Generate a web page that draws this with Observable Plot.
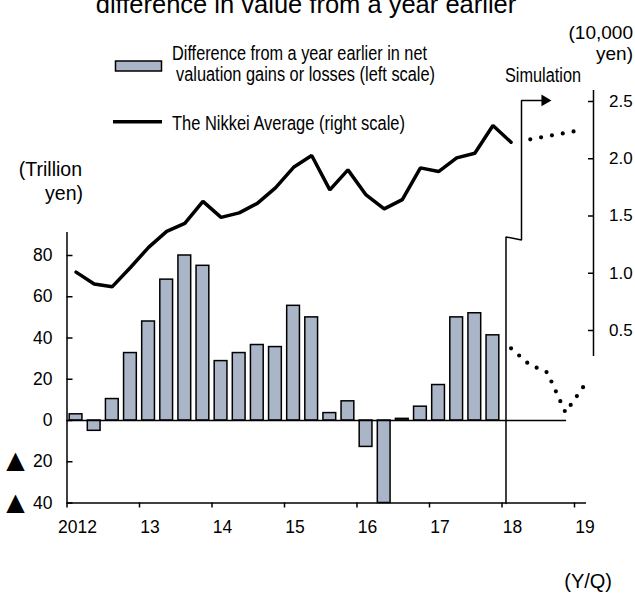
<!DOCTYPE html>
<html><head><meta charset="utf-8">
<script src="https://cdn.jsdelivr.net/npm/d3@7"></script>
<script src="https://cdn.jsdelivr.net/npm/@observablehq/plot@0.6"></script>
<style>
body{margin:0;background:#fff;}
#wrap{position:relative;width:635px;height:594px;overflow:hidden;background:#fff;}
#wrap svg{position:absolute;left:0;top:0;}
</style></head><body><div id="wrap"></div>
<script>
// ---- data ----
const firstYear = 2012;
// Year-on-year difference in net valuation gains/losses (trillion yen), 2012Q1..2017Q4
const valuationDiff = [3, -5, 10.4, 32.7, 48, 68.3, 80, 75, 28.8, 32.7, 36.6, 35.6, 55.6, 50, 3.6, 9.3, -12.8, -40, 0.8, 6.7, 17.2, 50, 52, 41.3];
// Nikkei average (10,000 yen), 2012Q1..2018Q1
const nikkei = [1.01, 0.906, 0.883, 1.05, 1.226, 1.366, 1.436, 1.628, 1.488, 1.527, 1.61, 1.745, 1.925, 2.028, 1.728, 1.903, 1.684, 1.562, 1.643, 1.92, 1.888, 2.008, 2.048, 2.29, 2.144];
// Simulation: valuation difference 2018Q1..2019Q1
const valuationSimT = [2018.125, 2018.375, 2018.625, 2018.875, 2019.125];
const valuationSim = [35, 27.2, 23.3, 3.9, 16.5];
// Simulation: Nikkei
const nikkeiSimT = [2018.39, 2019.0];
const nikkeiSim = [2.17, 2.24];
// axes
const yearTicks = [2012, 2013, 2014, 2015, 2016, 2017, 2018, 2019];
const yearLabels = ["2012", "13", "14", "15", "16", "17", "18", "19"];
const leftTicks = [-40, -20, 0, 20, 40, 60, 80];
const leftTickLabels = ["40", "20", "0", "20", "40", "60", "80"];
const negativeMarker = "▲";
const rightTicks = [0.5, 1.0, 1.5, 2.0, 2.5];
const rightTickLabels = ["0.5", "1.0", "1.5", "2.0", "2.5"];
// simulation bracket annotation (x in years, y in left-scale units)
const bracketT = [2018.055, 2018.055, 2018.269, 2018.269, 2018.545];
const bracketY = [-40.2, 89, 87.5, 155.2, 155.2];
const arrowTip = {t: 2018.59, y: 155.2};

// ---- derived ----
const q = i => firstYear + (i + 0.5) / 4;
const toLeft = v => 15.88 + 55.515 * v;     // right scale -> left scale units
const bars = valuationDiff.map((v, i) => ({t: q(i), v}));
const nk = nikkei.map((v, i) => ({t: q(i), y: toLeft(v)}));
const vSim = valuationSim.map((v, i) => ({t: valuationSimT[i], y: v}));
const nSim = nikkeiSim.map((v, i) => ({t: nikkeiSimT[i], y: toLeft(v)}));
const bracket = bracketT.map((t, i) => ({t, y: bracketY[i]}));
const pxX = 72.5, pxY = 0.48485; // helpers for tick lengths
const rightAxisT = 2019.262;
const barHalf = 0.088;

const font = "'Liberation Sans', Arial, sans-serif";
const narrow = "'Liberation Sans Narrow', 'Arial Narrow', 'Liberation Sans', sans-serif";

const chart = Plot.plot({
  width: 635, height: 594,
  marginTop: 0, marginRight: 0, marginBottom: 0, marginLeft: 0,
  x: {type: "linear", domain: [2012, 2019], range: [66.5, 574], axis: null},
  y: {domain: [-40, 80], range: [502.5, 255], axis: null},
  style: {fontFamily: font, fontSize: "17.5px", background: "white", color: "black", overflow: "visible"},
  marks: [
    // bars
    Plot.rect(bars, {x1: d => d.t - barHalf, x2: d => d.t + barHalf, y1: 0, y2: "v", fill: "#abb5c8", stroke: "black", strokeWidth: 1.5}),
    // zero line
    Plot.ruleY([0], {x1: 2012, x2: 2018.89, stroke: "black", strokeWidth: 1.5}),
    // left axis
    Plot.ruleX([2012], {y1: -40, y2: 91.2, stroke: "black", strokeWidth: 1.5}),
    Plot.ruleY(leftTicks, {y: d => d, x1: 2012, x2: 2012 + 6 / pxX, stroke: "black", strokeWidth: 1.5}),
    Plot.text(leftTicks, {y: d => d, x: 2012, dx: -14.5, text: (d, i) => leftTickLabels[i], textAnchor: "end", fontSize: 17.5}),
    Plot.text(leftTicks.filter(d => d < 0), {y: d => d, x: 2012, dx: -51.5, dy: -1, text: () => negativeMarker, textAnchor: "middle", fontSize: 24, fontFamily: "'DejaVu Sans', sans-serif"}),
    // x axis
    Plot.ruleY([-40], {x1: 2012, x2: 2019.166, stroke: "black", strokeWidth: 1.5}),
    Plot.ruleX(yearTicks, {x: d => d, y1: -40, y2: -40 - 5 * pxY, stroke: "black", strokeWidth: 1.5}),
    Plot.text(yearTicks, {x: d => d + 0.145, y: -40, dy: 24, text: (d, i) => yearLabels[i], fontSize: 17.5}),
    // right axis
    Plot.ruleX([rightAxisT], {y1: toLeft(0.273), y2: toLeft(2.596), stroke: "black", strokeWidth: 1.5}),
    Plot.ruleY(rightTicks, {y: d => toLeft(d), x1: rightAxisT - 5 / pxX, x2: rightAxisT, stroke: "black", strokeWidth: 1.5}),
    Plot.text(rightTicks, {y: d => toLeft(d), x: rightAxisT, dx: 15.5, text: (d, i) => rightTickLabels[i], textAnchor: "start", fontSize: 17, fontFamily: narrow}),
    // Nikkei line
    Plot.line(nk, {x: "t", y: "y", stroke: "black", strokeWidth: 3.5, strokeLinejoin: "miter"}),
    // simulation dotted lines
    Plot.line(vSim, {x: "t", y: "y", stroke: "black", strokeWidth: 4.2, strokeLinecap: "round", strokeDasharray: "0 10.8"}),
    Plot.line(nSim, {x: "t", y: "y", stroke: "black", strokeWidth: 4.2, strokeLinecap: "round", strokeDasharray: "0 11"}),
    // simulation bracket + arrow
    Plot.line(bracket, {x: "t", y: "y", stroke: "black", strokeWidth: 1.5, strokeLinejoin: "miter"}),
    Plot.dot([arrowTip], {x: "t", y: "y", symbol: "triangle", r: 4.3, fill: "black", stroke: "none", rotate: 90})
  ]
});
const wrap = document.getElementById("wrap");
wrap.appendChild(chart);

// ---- titles, legend, units (overlay) ----
const NS = "http://www.w3.org/2000/svg";
const ov = document.createElementNS(NS, "svg");
ov.setAttribute("width", 635); ov.setAttribute("height", 594);
ov.style.pointerEvents = "none";
function txt(s, x, y, opts = {}) {
  const t = document.createElementNS(NS, "text");
  t.textContent = s;
  t.setAttribute("x", x); t.setAttribute("y", y);
  t.setAttribute("font-family", opts.family || font);
  t.setAttribute("font-size", opts.size || 19);
  t.setAttribute("fill", "#000");
  if (opts.anchor) t.setAttribute("text-anchor", opts.anchor);
  if (opts.len) { t.setAttribute("textLength", opts.len); t.setAttribute("lengthAdjust", "spacingAndGlyphs"); }
  ov.appendChild(t);
}
txt("difference in value from a year earlier", 306, 12.5, {anchor: "middle", size: 25.5});
txt("(10,000", 633, 39, {anchor: "end", size: 19});
txt("yen)", 633, 59.5, {anchor: "end", size: 19});
txt("(Trillion", 82, 176, {anchor: "end", size: 19.5});
txt("yen)", 83, 200, {anchor: "end", size: 19.5});
txt("(Y/Q)", 612, 588, {anchor: "end", size: 20});
txt("Simulation", 505, 82, {family: narrow, size: 20, len: 76});
txt("Difference from a year earlier in net", 172, 59.5, {family: narrow, size: 20, len: 255});
txt("valuation gains or losses (left scale)", 176, 81, {family: narrow, size: 20, len: 259});
txt("The Nikkei Average (right scale)", 172, 129.5, {family: narrow, size: 20, len: 233});
const sw = document.createElementNS(NS, "rect");
sw.setAttribute("x", 115.5); sw.setAttribute("y", 61); sw.setAttribute("width", 46); sw.setAttribute("height", 10);
sw.setAttribute("fill", "#abb5c8"); sw.setAttribute("stroke", "#000"); sw.setAttribute("stroke-width", 1.5);
ov.appendChild(sw);
const ln = document.createElementNS(NS, "line");
ln.setAttribute("x1", 113); ln.setAttribute("x2", 162); ln.setAttribute("y1", 121.7); ln.setAttribute("y2", 121.7);
ln.setAttribute("stroke", "#000"); ln.setAttribute("stroke-width", 3.5);
ov.appendChild(ln);
wrap.appendChild(ov);
</script></body></html>
